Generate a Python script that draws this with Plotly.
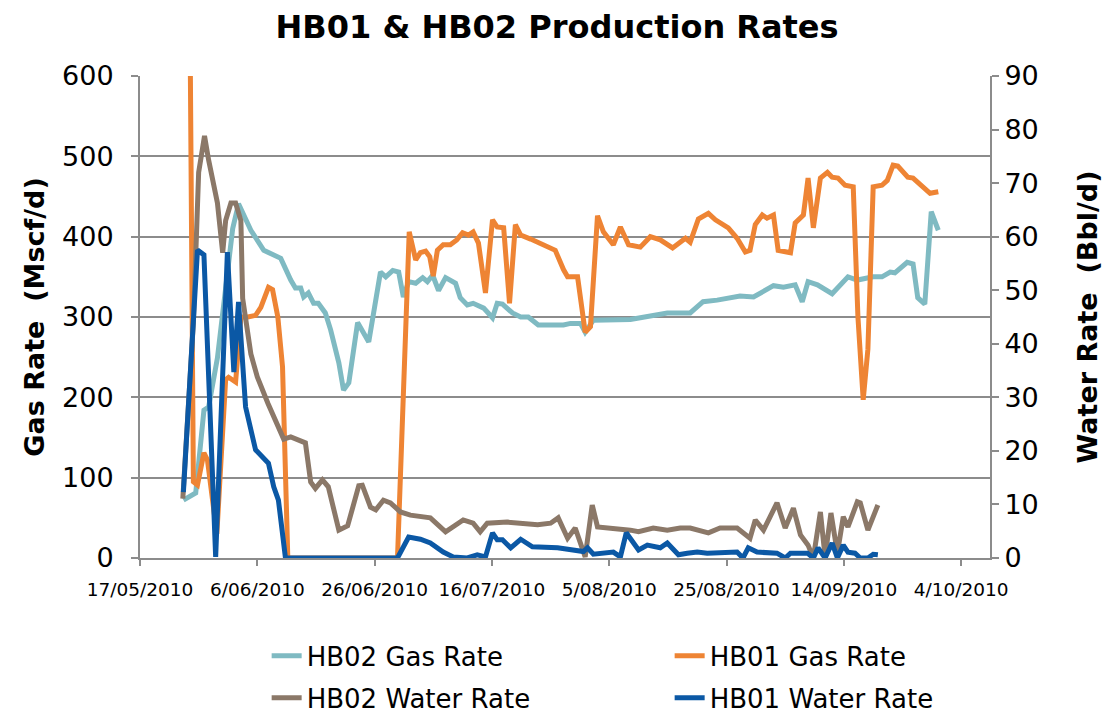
import pandas as pd
import plotly.graph_objects as go

START = "2010-05-17"

# HB02 Gas Rate (Mscf/d) - days since start, values
hb02_gas_day = [7.4, 9.5, 10.9, 11.7, 13.2, 15.8, 16.8, 18.9, 21.1, 24.0, 25.7, 26.5, 27.4, 27.9, 28.7,
                29.6, 30.4, 31.6, 32.5, 33.9, 34.7, 35.6, 37.1, 39.0, 41.0, 41.9, 43.1, 44.1, 44.9, 45.8,
                47.0, 48.2, 49.0, 49.9, 50.9, 52.1, 53.8, 54.6, 55.8, 56.8, 58.6, 60.1, 60.9, 61.8, 63.5,
                64.9, 66.2, 67.9, 72.2, 73.4, 75.1, 75.9, 77.3, 83.6, 85.3, 89.9, 93.8, 96.0, 98.4, 102.3,
                104.6, 108.0, 109.7, 111.7, 112.9, 113.9, 115.5, 118.0, 120.7, 122.3, 125.0, 126.5, 127.9,
                128.7, 130.8, 131.8, 132.6, 133.8, 134.9, 136.1]
hb02_gas = [72, 81, 184, 188, 249, 410, 441, 408, 383, 373, 346, 336, 336, 325, 330,
            317, 317, 305, 284, 243, 209, 218, 293, 269, 356, 350, 358, 356, 325, 344,
            342, 349, 344, 352, 333, 349, 342, 324, 315, 317, 311, 299, 317, 316, 305,
            300, 300, 290, 290, 292, 292, 281, 296, 297, 299, 305, 305, 319, 321, 326,
            325, 339, 337, 340, 319, 344, 340, 329, 350, 346, 350, 350, 356,
            355, 368, 366, 324, 316, 431, 408]

# HB01 Gas Rate (Mscf/d)
hb01_gas_day = [7.4, 9.1, 9.8, 10.9, 11.5, 13.1, 14.6, 15.1, 16.3, 17.2, 18.4, 19.7, 20.6, 21.9, 22.6,
                23.5, 24.3, 24.8, 25.2, 43.9, 45.9, 47.0, 47.8, 48.7, 49.4, 50.0, 50.7, 51.7, 52.9, 54.0,
                55.0, 56.0, 56.8, 57.7, 58.9, 60.1, 60.9, 62.0, 63.0, 64.0, 64.9, 66.6, 67.9, 69.5, 70.8,
                72.2, 72.9, 74.6, 75.9, 76.8, 78.0, 79.0, 80.7, 81.9, 83.3, 85.3, 87.0, 88.7, 90.8, 93.0,
                93.8, 95.2, 96.9, 98.1, 100.3, 101.8, 103.2, 104.0, 104.9, 106.1, 106.9, 108.0, 108.8, 110.9,
                111.7, 113.1, 113.9, 114.8, 116.0, 117.2, 118.0, 119.0, 120.2, 121.6, 122.4, 123.3, 124.1,
                125.0, 126.5, 127.4, 128.4, 129.2, 130.9, 131.8, 134.7, 136.1]
hb01_gas = [1780, 95, 91, 131, 122, 30, 222, 225, 219, 300, 300, 302, 312, 337, 334,
            300, 238, 72, 0, 0, 406, 371, 380, 382, 375, 351, 383, 390, 390, 396,
            405, 402, 406, 392, 330, 421, 412, 411, 317, 415, 402, 397, 393, 387, 383,
            359, 350, 350, 281, 288, 426, 406, 390, 412, 390, 387, 400, 396, 386, 398,
            393, 422, 429, 421, 411, 398, 381, 383, 415, 427, 423, 427, 383, 380,
            417, 427, 473, 411, 473, 480, 474, 473, 464, 462, 300, 197, 260,
            462, 464, 470, 489, 488, 474, 473, 454, 456]

# HB02 Water Rate (Bbl/d)
hb02_water_day = [7.3, 9.1, 10.0, 11.0, 11.7, 12.4, 13.2, 14.1, 14.6, 15.5, 16.3, 17.2, 17.5, 18.9, 20.0,
                  21.8, 23.5, 24.5, 25.7, 27.4, 28.2, 29.1, 29.9, 31.1, 32.1, 33.9, 35.4, 37.3, 37.9, 39.3,
                  40.2, 41.5, 42.7, 44.4, 46.1, 49.5, 52.1, 55.1, 56.8, 58.0, 59.2, 62.6, 65.4, 67.8, 70.0,
                  71.3, 72.9, 74.2, 75.9, 77.1, 78.0, 80.7, 83.6, 85.0, 87.5, 89.9, 92.1, 93.8, 95.5, 96.9,
                  98.9, 101.8, 104.0, 104.9, 106.3, 108.6, 110.0, 111.4, 112.6, 113.9, 114.8, 116.0, 116.8,
                  117.8, 118.9, 119.9, 120.7, 122.3, 122.8, 124.1, 125.8]
hb02_water = [11.1, 44, 72, 78.8, 74.3, 70, 66.3, 57, 63, 66.3, 66.3, 63, 48.5, 38.1, 33.8,
              28.9, 24.3, 22.2, 22.6, 22.0, 21.5, 14.2, 13.0, 14.6, 13.3, 5.2, 6.0, 13.5, 13.6, 9.5,
              9.0, 10.8, 10.3, 8.6, 8.0, 7.5, 4.9, 7.1, 6.5, 4.9, 6.5, 6.7, 6.5, 6.2, 6.5,
              7.5, 3.7, 5.6, 0.2, 9.9, 5.8, 5.6, 5.2, 4.9, 5.6, 5.2, 5.6, 5.6, 5.2, 4.7,
              5.6, 5.6, 3.7, 7.1, 5.2, 10.3, 5.6, 9.3, 4.3, 2.4, 0, 8.6, 0.2,
              8.4, 0.9, 7.7, 5.8, 10.5, 10.3, 5.2, 9.9]

# HB01 Water Rate (Bbl/d)
hb01_water_day = [7.4, 9.8, 10.9, 12.9, 14.9, 16.0, 16.8, 18.0, 19.7, 21.9, 22.8, 23.6, 24.8, 43.9, 45.8,
                  47.8, 49.5, 51.7, 53.4, 55.8, 57.5, 58.9, 60.1, 60.9, 61.8, 63.2, 64.9, 66.9, 71.2, 75.6,
                  76.3, 77.3, 80.7, 81.9, 82.9, 85.0, 86.5, 88.7, 89.9, 91.8, 93.3, 95.0, 96.7, 101.8, 102.8,
                  103.7, 105.2, 108.6, 110.0, 110.9, 113.8, 114.8, 115.6, 116.8, 118.0, 118.9, 119.9, 120.7,
                  121.9, 122.8, 124.1, 125.0, 125.8]
hb01_water = [12.3, 57.5, 56.6, 0.2, 57.1, 34.7, 47.8, 28.2, 20.2, 17.7, 13.3, 10.8, 0, 0, 3.9,
              3.5, 2.8, 1.1, 0.2, 0, 0.6, 0.2, 4.7, 3.4, 3.4, 1.9, 3.5, 2.1, 1.9, 1.2,
              1.9, 0.7, 1.1, 0.2, 4.7, 1.5, 2.4, 1.9, 2.8, 0.6, 0.9, 1.1, 0.9, 1.1, 0,
              1.9, 1.1, 0.9, 0, 0.9, 0.9, 0, 1.9, 0, 2.8, 0, 2.4, 1.1,
              0.9, 0, 0, 0.7, 0.6]

x_range = ["2010-05-17", "2010-10-08 22:00"]
gas_ticks = [0, 100, 200, 300, 400, 500, 600]
water_ticks = [0, 10, 20, 30, 40, 50, 60, 70, 80, 90]


def to_dates(days):
    return pd.Timestamp(START) + pd.to_timedelta(days, unit="D")


FONT = "Verdana, DejaVu Sans, sans-serif"
GRID = "#8c8c8c"
LW = 5

fig = go.Figure()
fig.add_trace(go.Scatter(x=to_dates(hb02_gas_day), y=hb02_gas, name="HB02 Gas Rate", mode="lines",
                         line=dict(color="#7fbac2", width=LW), yaxis="y", legend="legend"))
fig.add_trace(go.Scatter(x=to_dates(hb01_gas_day), y=hb01_gas, name="HB01 Gas Rate", mode="lines",
                         line=dict(color="#ee8434", width=LW), yaxis="y", legend="legend"))
fig.add_trace(go.Scatter(x=to_dates(hb02_water_day), y=hb02_water, name="HB02 Water Rate", mode="lines",
                         line=dict(color="#8b7868", width=LW), yaxis="y2", legend="legend2"))
fig.add_trace(go.Scatter(x=to_dates(hb01_water_day), y=hb01_water, name="HB01 Water Rate", mode="lines",
                         line=dict(color="#0b58a5", width=LW), yaxis="y2", legend="legend2"))

legend_common = dict(orientation="h", xanchor="left", yanchor="middle", entrywidth=358,
                     entrywidthmode="pixels", font=dict(family=FONT, size=26, color="#000000"),
                     bgcolor="rgba(0,0,0,0)", x=0.149)

fig.update_layout(
    width=1107, height=705,
    margin=dict(l=132, r=125, t=68, b=155, autoexpand=False),
    paper_bgcolor="white", plot_bgcolor="white",
    title=dict(text="<b>HB01 & HB02 Production Rates</b>", x=0.496, xanchor="center", y=0.973,
               yanchor="middle", font=dict(family=FONT, size=32, color="#000000")),
    xaxis=dict(type="date", range=x_range, tick0="2010-05-17", dtick=20 * 86400000,
               tickformat="%-d/%m/%Y", showgrid=False, showline=True, linecolor=GRID, linewidth=2,
               ticks="outside", ticklen=6, tickcolor=GRID, tickwidth=2, automargin=False,
               ticklabelstandoff=8,
               tickfont=dict(family=FONT, size=18.5, color="#000000"), zeroline=False),
    yaxis=dict(range=[0, 600], tickvals=gas_ticks, showgrid=True, gridcolor=GRID, gridwidth=2,
               showline=True, linecolor=GRID, linewidth=2, ticks="outside", ticklen=7, tickcolor=GRID,
               tickwidth=2, tickfont=dict(family=FONT, size=27, color="#000000"), zeroline=False,
               automargin=False, ticklabelstandoff=12,
               title=dict(text="<b>Gas Rate  (Mscf/d)</b>", font=dict(family=FONT, size=27, color="#000000"),
                          standoff=10)),
    yaxis2=dict(range=[0, 90], tickvals=water_ticks, overlaying="y", side="right", showgrid=False,
                showline=True, linecolor=GRID, linewidth=2, ticks="outside", ticklen=7, tickcolor=GRID,
                tickwidth=2, tickfont=dict(family=FONT, size=27, color="#000000"), zeroline=False,
                automargin=False,
                title=dict(text="<b>Water Rate  (Bbl/d)</b>", font=dict(family=FONT, size=27, color="#000000"),
                           standoff=40)),
    legend=dict(legend_common, y=-0.203),
    legend2=dict(legend_common, y=-0.290),
)

fig.write_html("out.html")
